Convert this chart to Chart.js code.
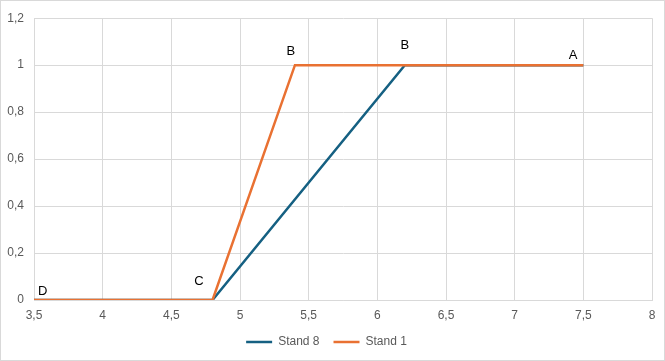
<!DOCTYPE html>
<html>
<head>
<meta charset="utf-8">
<script src="https://cdn.jsdelivr.net/npm/chart.js@4/dist/chart.umd.min.js"></script>
<style>
  html, body { margin: 0; padding: 0; background: #fff; }
  #wrap { width: 665px; height: 361px; position: relative; box-sizing: border-box; border: 1px solid #d9d9d9; }
</style>
</head>
<body>
<div id="wrap"><canvas id="myChart"></canvas></div>
<script>
// Stand 8
const stand8X = [3.5, 4.8, 6.2, 7.5];
const stand8Y = [0, 0, 1, 1];
const stand8Labels = ['', '', 'B', ''];

// Stand 1
const stand1X = [3.5, 4.8, 5.4, 7.5];
const stand1Y = [0, 0, 1, 1];
const stand1Labels = ['D', 'C', 'B', 'A'];

const xTicks = [3.5, 4, 4.5, 5, 5.5, 6, 6.5, 7, 7.5, 8];
const yTicks = [0, 0.2, 0.4, 0.6, 0.8, 1, 1.2];

const toPoints = (xs, ys) => xs.map((x, i) => ({ x: x, y: ys[i] }));
const comma = v => String(Math.round(v * 10) / 10).replace('.', ',');

// label offsets relative to the point (dx, dy, align)
const labelPos = {
  'Stand 8': [null, null, [0, -20, 'center'], null],
  'Stand 1': [[4, -9, 'left'], [-9, -19, 'right'], [-4, -14, 'center'], [-6, -10, 'right']]
};

const pointLabels = {
  id: 'pointLabels',
  afterDatasetsDraw(chart) {
    const ctx = chart.ctx;
    ctx.save();
    ctx.font = '13px "Liberation Sans", Arial, sans-serif';
    ctx.fillStyle = '#000';
    ctx.textBaseline = 'middle';
    chart.data.datasets.forEach((ds, i) => {
      const meta = chart.getDatasetMeta(i);
      ds.pointText.forEach((t, j) => {
        if (!t) return;
        const p = labelPos[ds.label][j];
        const el = meta.data[j];
        ctx.textAlign = p[2];
        ctx.fillText(t, el.x + p[0], el.y + p[1]);
      });
    });
    ctx.restore();
  }
};

const ctx = document.getElementById('myChart').getContext('2d');
const myChart = new Chart(ctx, {
  type: 'scatter',
  data: {
    datasets: [{
      label: 'Stand 8',
      data: toPoints(stand8X, stand8Y),
      pointText: stand8Labels,
      showLine: true,
      borderColor: '#156082',
      backgroundColor: '#156082',
      borderWidth: 2.5,
      pointRadius: 0,
      order: 2
    }, {
      label: 'Stand 1',
      data: toPoints(stand1X, stand1Y),
      pointText: stand1Labels,
      showLine: true,
      borderColor: '#E97132',
      backgroundColor: '#E97132',
      borderWidth: 2.5,
      pointRadius: 0,
      order: 1
    }]
  },
  options: {
    responsive: true,
    maintainAspectRatio: false,
    animation: false,
    layout: { padding: { left: 0, right: 12, top: 16, bottom: 2 } },
    plugins: {
      tooltip: { enabled: false },
      legend: {
        position: 'bottom',
        labels: {
          usePointStyle: true,
          pointStyle: 'line',
          pointStyleWidth: 26,
          color: '#595959',
          font: { size: 12, family: '"Liberation Sans", Arial, sans-serif' },
          padding: 14,
          sort: (a, b) => a.datasetIndex - b.datasetIndex
        }
      }
    },
    scales: {
      x: {
        type: 'linear',
        min: 3.5,
        max: 8,
        afterBuildTicks: axis => { axis.ticks = xTicks.map(v => ({ value: v })); },
        afterFit: axis => { axis.height = 22; },
        grid: { color: '#d9d9d9', drawTicks: false },
        border: { color: '#d9d9d9' },
        ticks: {
          color: '#595959',
          padding: 8,
          font: { size: 12, family: '"Liberation Sans", Arial, sans-serif' },
          callback: v => comma(v)
        }
      },
      y: {
        min: 0,
        max: 1.2,
        afterBuildTicks: axis => { axis.ticks = yTicks.map(v => ({ value: v })); },
        afterFit: axis => { axis.width = 33; },
        grid: { color: '#d9d9d9', drawTicks: false },
        border: { color: '#d9d9d9' },
        ticks: {
          color: '#595959',
          padding: 10,
          font: { size: 12, family: '"Liberation Sans", Arial, sans-serif' },
          callback: v => comma(v)
        }
      }
    }
  },
  plugins: [pointLabels]
});
</script>
</body>
</html>
